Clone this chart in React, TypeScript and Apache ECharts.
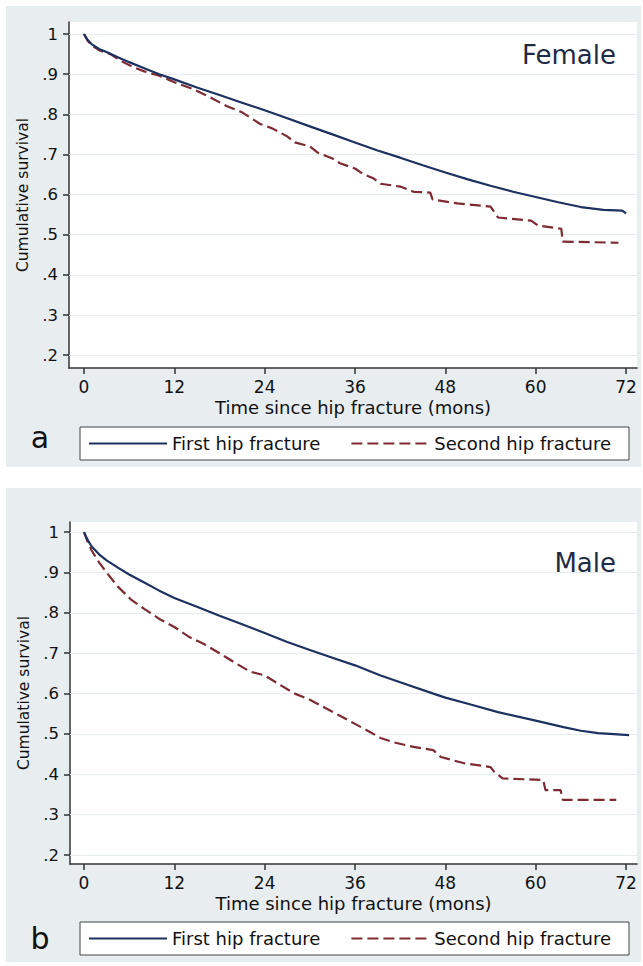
import React, { useEffect, useRef } from "react";
import * as echarts from "echarts";

const monthTicks = [0, 12, 24, 36, 48, 60, 72];
const survivalTicks = [0.2, 0.3, 0.4, 0.5, 0.6, 0.7, 0.8, 0.9, 1];
const seriesNames = ["First hip fracture", "Second hip fracture"];
const panelTitles = ["Female", "Male"];
const panelLetters = ["a", "b"];
const xTitle = "Time since hip fracture (mons)";
const yTitle = "Cumulative survival";

const femaleFirst: [number, number][] = [
  [0, 1], [0.5, 0.985], [1, 0.975], [2, 0.963], [3, 0.955], [4.5, 0.942], [6, 0.93],
  [8, 0.915], [10, 0.9], [12, 0.887], [15, 0.867], [18, 0.848], [21, 0.829], [24, 0.81],
  [27, 0.79], [30, 0.77], [33, 0.75], [36, 0.73], [39, 0.71], [42, 0.692], [45, 0.673],
  [48, 0.655], [51, 0.638], [54, 0.622], [57, 0.607], [60, 0.594], [63, 0.581],
  [66, 0.569], [69, 0.562], [71.5, 0.56], [72, 0.553],
];
const femaleSecond: [number, number][] = [
  [0, 1], [0.5, 0.983], [1, 0.972], [2, 0.96], [3.5, 0.95], [5, 0.932], [6.5, 0.918],
  [8, 0.907], [10, 0.896], [12, 0.88], [14.5, 0.863], [17, 0.84], [19, 0.82], [21, 0.805],
  [23.4, 0.776], [25, 0.765], [27, 0.745], [28, 0.73], [30, 0.72], [31, 0.705], [33, 0.69],
  [34, 0.678], [36, 0.665], [37, 0.652], [38.5, 0.64], [39.4, 0.627], [42, 0.62],
  [43.8, 0.607], [46, 0.605], [46.3, 0.588], [49.6, 0.578], [54, 0.57], [55, 0.543],
  [59.4, 0.535], [60.3, 0.523], [63.4, 0.515], [63.6, 0.483], [71, 0.48],
];
const maleFirst: [number, number][] = [
  [0, 1], [0.5, 0.98], [1, 0.965], [2, 0.945], [3, 0.93], [4.5, 0.912], [6, 0.895],
  [8, 0.875], [10, 0.855], [12, 0.837], [15, 0.815], [18, 0.793], [21, 0.772], [24, 0.75],
  [27, 0.728], [30, 0.708], [33, 0.689], [36, 0.67], [39.4, 0.645], [42, 0.628],
  [46.4, 0.6], [48, 0.59], [51, 0.575], [55, 0.554], [60, 0.533], [63.7, 0.517],
  [66, 0.508], [68.3, 0.502], [72.4, 0.497],
];
const maleSecond: [number, number][] = [
  [0, 1], [0.5, 0.975], [1, 0.955], [2, 0.925], [3, 0.9], [4.5, 0.865], [6.3, 0.832],
  [8, 0.81], [10, 0.785], [12, 0.765], [14, 0.74], [16, 0.722], [18, 0.7], [20, 0.677],
  [22, 0.655], [24, 0.645], [26, 0.622], [28, 0.6], [30, 0.585], [32, 0.565], [34, 0.545],
  [36, 0.525], [37.5, 0.51], [39.4, 0.49], [41, 0.48], [43.8, 0.468], [46.4, 0.46],
  [47.4, 0.443], [50.4, 0.428], [54, 0.418], [54.5, 0.406], [55.6, 0.39], [61, 0.386],
  [61.3, 0.361], [63.3, 0.361], [63.6, 0.337], [70.7, 0.337],
];

const FONT = "DejaVu Sans";
const NAVY = "#1d3160";
const MAROON = "#7d2a33";
const AXIS = "#333333";

function fmtTick(v: number): string {
  if (v === 1) return "1";
  return v.toFixed(1).replace(/^0/, "");
}

export default function App() {
  const ref = useRef<HTMLDivElement>(null);
  useEffect(() => {
    if (!ref.current) return;
    const chart = echarts.init(ref.current, null, { renderer: "svg" });

    const grids = [
      { left: 69, top: 22, width: 568, height: 346 },
      { left: 70, top: 522, width: 567, height: 342 },
    ];
    const yRanges = [
      [0.168, 1.03],
      [0.178, 1.025],
    ];
    const xRanges = [
      [-1.99, 73.46],
      [-1.86, 73.46],
    ];
    const panelData = [
      [femaleFirst, femaleSecond],
      [maleFirst, maleSecond],
    ];

    const xAxes = grids.map((_, i) => ({
      gridIndex: i,
      type: "value",
      min: xRanges[i][0],
      max: xRanges[i][1],
      axisLine: { show: true, onZero: false, lineStyle: { color: AXIS, width: 1.5 } },
      axisTick: { show: true, length: 6, customValues: monthTicks, lineStyle: { color: AXIS, width: 1.5 } },
      axisLabel: { customValues: monthTicks, margin: 10, fontSize: 17, lineHeight: 17, color: "#111", fontFamily: FONT },
      splitLine: { show: false },
      name: xTitle,
      nameLocation: "middle",
      nameGap: 30,
      nameTextStyle: { fontSize: 18, lineHeight: 18, color: "#111", fontFamily: FONT },
    }));
    const yAxes = grids.map((_, i) => ({
      gridIndex: i,
      type: "value",
      min: yRanges[i][0],
      max: yRanges[i][1],
      axisLine: { show: true, onZero: false, lineStyle: { color: AXIS, width: 1.5 } },
      axisTick: { show: true, length: 6, customValues: survivalTicks, lineStyle: { color: AXIS, width: 1.5 } },
      axisLabel: {
        customValues: survivalTicks,
        margin: 11,
        fontSize: 16.5,
        color: "#111",
        fontFamily: FONT,
        formatter: (v: number) => fmtTick(v),
      },
      splitLine: { show: false },
      name: yTitle,
      nameLocation: "middle",
      nameGap: 38,
      nameTextStyle: { fontSize: 15.5, color: "#111", fontFamily: FONT },
    }));

    const series: any[] = [];
    panelData.forEach((pair, i) => {
      pair.forEach((data, j) => {
        series.push({
          type: "line",
          name: seriesNames[j],
          xAxisIndex: i,
          yAxisIndex: i,
          data,
          showSymbol: false,
          symbol: "none",
          silent: true,
          z: 3 - j,
          lineStyle: {
            color: j === 0 ? NAVY : MAROON,
            width: 2.2,
            type: j === 0 ? "solid" : [11, 5],
          },
          itemStyle: { color: j === 0 ? NAVY : MAROON },
          markLine:
            j === 0
              ? {
                  silent: true,
                  z: 1,
                  symbol: ["none", "none"],
                  label: { show: false },
                  lineStyle: { color: "#e6ebee", width: 1, type: "solid" },
                  data: survivalTicks.map((v) => ({ yAxis: v })),
                }
              : undefined,
        });
      });
    });

    const panels = [
      { y: 6, h: 461, boxY: 427, titleY: 55, letterY: 437 },
      { y: 488, h: 474, boxY: 922, titleY: 563, letterY: 938 },
    ];

    const graphic: any[] = [];
    panels.forEach((p, i) => {
      graphic.push({
        type: "rect",
        z: -1,
        shape: { x: 6, y: p.y, width: 635, height: p.h },
        style: { fill: "#e8edf0" },
      });
      graphic.push({
        type: "rect",
        z: 1,
        shape: { x: 80, y: p.boxY, width: 549, height: 33 },
        style: { fill: "#ffffff", stroke: "#444", lineWidth: 1 },
      });
      graphic.push({
        type: "text",
        z: 5,
        x: 616,
        y: p.titleY,
        style: {
          text: panelTitles[i],
          fontSize: 26,
          fontFamily: FONT,
          fill: "#1f2b45",
          align: "right",
          verticalAlign: "middle",
        },
      });
      graphic.push({
        type: "text",
        z: 5,
        x: 40,
        y: p.letterY,
        style: {
          text: panelLetters[i],
          fontSize: 30,
          fontFamily: FONT,
          fill: "#111",
          align: "center",
          verticalAlign: "middle",
        },
      });
    });

    const legends = panels.map((p) => ({
      left: 88,
      top: p.boxY + 16.5 - 9,
      orient: "horizontal",
      padding: 0,
      itemWidth: 78,
      itemHeight: 14,
      itemGap: 30,
      selectedMode: false,
      itemStyle: { opacity: 0, borderWidth: 0 },
      data: seriesNames,
      textStyle: { fontSize: 18, color: "#111", fontFamily: FONT },
    }));

    chart.setOption({
      animation: false,
      backgroundColor: "#ffffff",
      grid: grids.map((g) => ({ ...g, show: true, backgroundColor: "#ffffff", borderWidth: 0, containLabel: false })),
      xAxis: xAxes,
      yAxis: yAxes,
      legend: legends,
      graphic,
      series,
    });
    return () => chart.dispose();
  }, []);

  return (
    <div
      ref={ref}
      style={{ position: "absolute", left: 0, top: 0, width: 643, height: 966 }}
    />
  );
}
